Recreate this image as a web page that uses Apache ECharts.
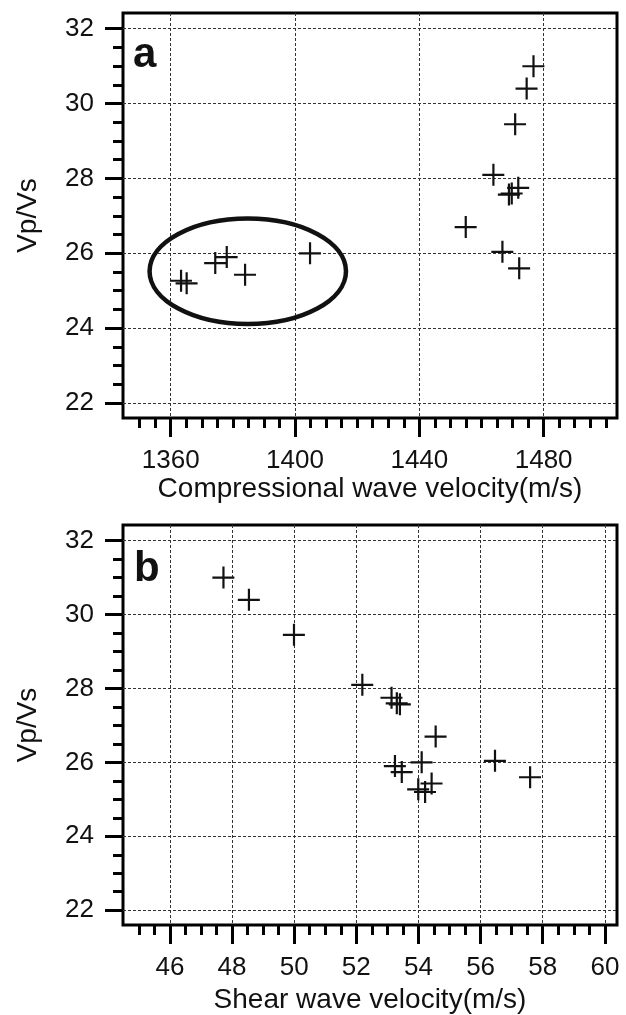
<!DOCTYPE html>
<html>
<head>
<meta charset="utf-8">
<script src="https://cdn.jsdelivr.net/npm/echarts@6/dist/echarts.min.js"></script>
<style>
    html, body { margin: 0; padding: 0; background: #fff; }
    #main { width: 626px; height: 1015px; }
</style>
</head>
<body>
<div id="main"></div>
<script>
// Vp/Vs of each sample (same samples in both panels)
const vpvs = [31.0, 30.4, 29.45, 28.1, 27.75, 27.6, 27.57, 26.7, 26.04, 25.6, 26.0, 25.9, 25.74, 25.43, 25.27, 25.2];
// compressional wave velocity (m/s) - panel a
const vp = [1476.7, 1474.5, 1470.8, 1463.8, 1471.8, 1469.7, 1468.8, 1454.9, 1466.7, 1472.1, 1404.8, 1378.0, 1374.3, 1383.9, 1363.3, 1365.1];
// shear wave velocity (m/s) - panel b
const vs = [47.72, 48.54, 49.99, 52.19, 53.13, 53.30, 53.40, 54.55, 56.46, 57.59, 54.10, 53.24, 53.46, 54.42, 53.99, 54.21];

const vpTicks = [1360, 1400, 1440, 1480];
const vsTicks = [46, 48, 50, 52, 54, 56, 58, 60];
const ratioTicks = [22, 24, 26, 28, 30, 32];

// circled group in panel a: centre (vp, vp/vs) and half sizes
const ringCenter = [1384.8, 25.52];
const ringHalf = [31.6, 1.41];

const font = '"Liberation Sans", Arial, Helvetica, sans-serif';
const cross = 'path://M0,10L22,10L22,12.2L0,12.2Z M10,0L12.2,0L12.2,22L10,22Z';

let steps = (from, to, step) => {
    let out = [];
    for (let v = from; v <= to + 1e-9; v += step) out.push(+v.toFixed(3));
    return out;
};

let majorX = (grid, min, max, ticks, name, nameGap) => ({
    type: 'value', gridIndex: grid, min: min, max: max, position: 'bottom',
    name: name, nameLocation: 'middle', nameGap: nameGap,
    nameTextStyle: { fontSize: 28, fontFamily: font, color: '#111' },
    axisLine: { show: false },
    axisTick: { show: true, inside: false, length: 19, customValues: ticks, lineStyle: { color: '#000', width: 3 } },
    axisLabel: { customValues: ticks, margin: 30, fontSize: 26, fontFamily: font, color: '#111', formatter: v => String(v) },
    splitLine: { show: true, lineStyle: { color: '#333', width: 1, type: [3, 2] } }
});

let minorX = (grid, min, max, ticks) => ({
    type: 'value', gridIndex: grid, min: min, max: max, position: 'bottom',
    axisLine: { show: false },
    axisTick: { show: true, inside: false, length: 10, customValues: ticks, lineStyle: { color: '#000', width: 3 } },
    axisLabel: { show: false },
    splitLine: { show: false }
});

let majorY = (grid, nameGap) => ({
    type: 'value', gridIndex: grid, min: 21.6, max: 32.42, position: 'left',
    name: 'Vp/Vs', nameLocation: 'middle', nameGap: nameGap, nameRotate: 90,
    nameTextStyle: { fontSize: 28, fontFamily: font, color: '#111' },
    axisLine: { show: false },
    axisTick: { show: true, inside: false, length: 18, customValues: ratioTicks, lineStyle: { color: '#000', width: 3 } },
    axisLabel: { customValues: ratioTicks, margin: 29, fontSize: 26, fontFamily: font, color: '#111' },
    splitLine: { show: true, lineStyle: { color: '#333', width: 1, type: [3, 2] } }
});

let minorY = (grid) => ({
    type: 'value', gridIndex: grid, min: 21.6, max: 32.42, position: 'left',
    axisLine: { show: false },
    axisTick: { show: true, inside: false, length: 10, customValues: steps(22, 32, 0.5), lineStyle: { color: '#000', width: 3 } },
    axisLabel: { show: false },
    splitLine: { show: false }
});

let myChart = echarts.init(document.getElementById('main'));
let option = {
    animation: false,
    backgroundColor: '#fff',
    grid: [
        { left: 123, top: 13, width: 494, height: 405, show: true, borderColor: '#000', borderWidth: 3 },
        { left: 123, top: 525, width: 494, height: 402, show: true, borderColor: '#000', borderWidth: 3 }
    ],
    xAxis: [
        majorX(0, 1344.65, 1503.6, vpTicks, 'Compressional wave velocity(m/s)', 51),
        minorX(0, 1344.65, 1503.6, steps(1350, 1500, 5)),
        majorX(1, 44.49, 60.39, vsTicks, 'Shear wave velocity(m/s)', 61),
        minorX(1, 44.49, 60.39, steps(45, 60, 0.5))
    ],
    yAxis: [majorY(0, 81), minorY(0), majorY(1, 81), minorY(1)],
    graphic: [
        { type: 'text', style: { x: 133, y: 55, text: 'a', font: 'bold 42px ' + font, fill: '#111', verticalAlign: 'middle' } },
        { type: 'text', style: { x: 134, y: 569, text: 'b', font: 'bold 42px ' + font, fill: '#111', verticalAlign: 'middle' } }
    ],
    series: [
        {
            type: 'scatter', xAxisIndex: 0, yAxisIndex: 0,
            data: vp.map((v, i) => [v, vpvs[i]]),
            symbol: cross, symbolSize: 22,
            itemStyle: { color: '#111', opacity: 1 }
        },
        {
            type: 'custom', xAxisIndex: 0, yAxisIndex: 0, silent: true,
            data: [ringCenter.concat(ringHalf)],
            renderItem: (params, api) => {
                let c = api.coord([api.value(0), api.value(1)]);
                let s = api.size([api.value(2), api.value(3)]);
                return {
                    type: 'ellipse',
                    shape: { cx: c[0], cy: c[1], rx: s[0], ry: s[1] },
                    style: { fill: 'none', stroke: '#111', lineWidth: 4.5 }
                };
            }
        },
        {
            type: 'scatter', xAxisIndex: 2, yAxisIndex: 2,
            data: vs.map((v, i) => [v, vpvs[i]]),
            symbol: cross, symbolSize: 22,
            itemStyle: { color: '#111', opacity: 1 }
        }
    ]
};
myChart.setOption(option);
window.addEventListener('resize', function () {
    myChart.resize();
});
</script>
</body>
</html>
